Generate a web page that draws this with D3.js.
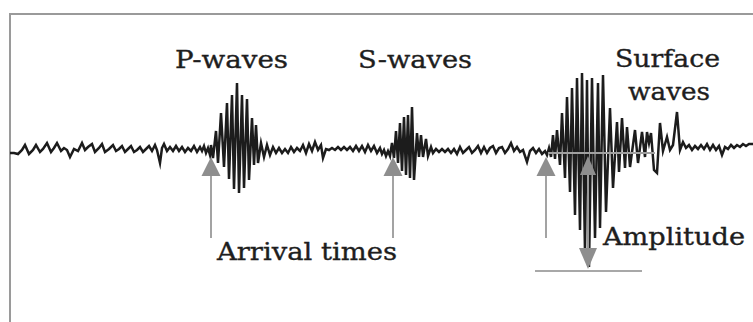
<!DOCTYPE html>
<html><head><meta charset="utf-8">
<script src="https://cdn.jsdelivr.net/npm/d3@7"></script>
<style>html,body{margin:0;padding:0;background:#fff;overflow:hidden}</style>
</head><body><svg id="c" width="753" height="322"></svg>
<script>
// time (tenths of a second) , ground motion amplitude (arbitrary units)
const preEvent = [[0,0],[4,0],[8,-1],[12,3],[15,8],[19,-1],[23,3],[26,8],[30,1],[33,4],[37,10],[41,1],[44,5],[47,10],[51,2],[54,5],[57,3],[60,-4],[64,4],[68,2],[72,10],[75,3],[78,6],[82,9],[85,1],[89,5],[92,9],[95,1],[99,4],[103,8],[106,2],[109,4],[112,7],[115,1],[118,4],[121,7],[124,1],[127,3],[130,6],[133,1],[136,4],[139,7],[142,2],[145,8],[147,3],[150,-10],[152,5],[154,9],[157,2],[160,6],[163,2],[166,7],[169,2],[172,6],[175,1],[178,5],[181,2],[184,7],[187,1],[190,6],[192,2],[194,7],[196,0],[198,5],[200,-2]];
const pWaves = [[201,8],[203,-5],[206,22],[208,-10],[211,40],[214,-14],[217,50],[219,-26],[222,58],[224,-36],[227,70],[229,-40],[232,58],[234,-35],[237,54],[239,-27],[242,35],[244,-12],[246,28],[248,-10],[251,10],[254,-4],[257,8],[260,-2]];
const codaP = [[263,6],[266,0],[269,5],[272,0],[275,4],[278,0],[281,6],[284,1],[287,5],[290,2],[293,8],[296,0],[299,9],[302,2],[305,11],[308,3],[311,8],[313,-5],[316,4],[319,3],[322,5],[325,3],[328,6],[331,3],[334,6],[337,3],[340,6],[343,2],[346,7],[349,2],[352,7],[355,1],[358,8],[361,2],[364,7],[367,0],[370,5],[372,-1],[374,3],[376,-3],[378,2]];
const sWaves = [[380,-3],[382,10],[384,-5],[386,22],[388,-10],[390,30],[392,-18],[394,36],[396,-22],[398,38],[400,-25],[402,46],[404,-27],[407,20],[409,-4],[411,18],[413,-4],[416,14],[418,-3],[421,6],[423,0]];
const codaS = [[426,4],[429,1],[432,4],[435,1],[438,4],[441,0],[444,4],[447,-1],[450,6],[453,0],[456,3],[459,6],[462,0],[465,3],[468,7],[471,0],[474,6],[477,0],[480,5],[483,7],[486,0],[489,5],[492,6],[495,0],[498,4],[501,10],[504,2],[507,6],[510,1],[513,3],[517,-9],[520,2],[523,5],[526,0],[529,4],[532,-1],[535,2],[537,-2]];
const surfaceWaves = [[539,5],[541,-4],[543,18],[545,-6],[547,23],[550,-12],[552,40],[555,-25],[557,56],[560,-39],[562,65],[565,-62],[567,75],[570,-77],[572,80],[575,-99],[577,73],[579,-114],[582,75],[585,-85],[588,70],[590,-75],[593,78],[596,-59],[600,45],[603,-35],[607,31],[609,-19],[612,35],[615,-15],[617,26],[620,-14],[625,23],[628,-10],[632,21],[635,-4],[637,21],[639,10],[641,20],[644,-17],[647,-20],[650,30],[653,2],[657,16],[660,3],[663,8],[667,41],[670,3]];
const tail = [[673,11],[676,5],[679,8],[682,3],[685,7],[688,4],[691,8],[694,4],[697,9],[700,3],[703,8],[706,3],[709,7],[712,-2],[715,6],[718,4],[721,8],[724,5],[727,8],[730,6],[733,9],[736,7],[739,9],[743,9]];

const arrivalTimes = [201, 383, 536];
const amplitudeTime = 578;
const amplitudePeak = -114;
const amplitudeSpan = [538, 645];
const troughLineSpan = [525, 632];

const labels = [
  {text:"P-waves", t:165, a:85, len:113},
  {text:"S-waves", t:348, a:85, len:114},
  {text:"Surface", t:605, a:86, len:105},
  {text:"waves", t:618, a:53, len:82},
  {text:"Arrival times", t:207, a:-107, len:180},
  {text:"Amplitude", t:593, a:-92, len:142}
];

const trace = [].concat(preEvent, pWaves, codaP, sWaves, codaS, surfaceWaves, tail);

const svg = d3.select("#c");
const x = d3.scaleLinear().domain([0, 743]).range([10, 753]);
const y = d3.scaleLinear().domain([-140, 139]).range([293, 14]);

svg.append("line").attr("x1",9).attr("x2",753).attr("y1",14).attr("y2",14)
  .attr("stroke","#9a9a9a").attr("stroke-width",2);
svg.append("line").attr("x1",10).attr("x2",10).attr("y1",14).attr("y2",322)
  .attr("stroke","#9a9a9a").attr("stroke-width",2);

svg.append("path").datum(trace)
  .attr("d", d3.line().x(d=>x(d[0])).y(d=>y(d[1])).curve(d3.curveLinear))
  .attr("fill","none").attr("stroke","#1c1c1c").attr("stroke-width",2.5)
  .attr("stroke-linejoin","miter").attr("stroke-miterlimit",6);

const gray = "#8e8e8e";
const y0 = y(0);

const arr = svg.append("g");
arrivalTimes.forEach(t => {
  const cx = x(t);
  arr.append("line").attr("x1",cx).attr("x2",cx).attr("y1",y0+20).attr("y2",y0+85)
    .attr("stroke","#a3a3a3").attr("stroke-width",2);
  arr.append("path").attr("d",`M${cx},${y0+4}L${cx+9.5},${y0+23}L${cx-9.5},${y0+23}Z`)
    .attr("fill",gray);
});

svg.append("line").attr("x1",x(amplitudeSpan[0])).attr("x2",x(amplitudeSpan[1]))
  .attr("y1",y0).attr("y2",y0).attr("stroke","#a0a0a0").attr("stroke-width",2);
const ax = x(amplitudeTime), ay = y(amplitudePeak);
svg.append("line").attr("x1",ax).attr("x2",ax).attr("y1",y0+10).attr("y2",ay-10)
  .attr("stroke","#9a9a9a").attr("stroke-width",2);
svg.append("path").attr("d",`M${ax},${y0+3}L${ax+8},${y0+22}L${ax-8},${y0+22}Z`).attr("fill",gray);
svg.append("path").attr("d",`M${ax},${ay+2}L${ax+9},${ay-19}L${ax-9},${ay-19}Z`).attr("fill",gray);
svg.append("line").attr("x1",x(troughLineSpan[0])).attr("x2",x(troughLineSpan[1]))
  .attr("y1",ay+4).attr("y2",ay+4).attr("stroke","#a8a8a8").attr("stroke-width",2);

svg.selectAll("text.lbl").data(labels).enter().append("text")
  .attr("class","lbl")
  .attr("x",d=>x(d.t)).attr("y",d=>y(d.a))
  .attr("textLength",d=>d.len).attr("lengthAdjust","spacingAndGlyphs")
  .attr("font-family","'DejaVu Serif', serif").attr("font-size",24)
  .attr("fill","#1e1e1e").attr("stroke","#1e1e1e").attr("stroke-width",0.35)
  .text(d=>d.text);
</script>
</body></html>
